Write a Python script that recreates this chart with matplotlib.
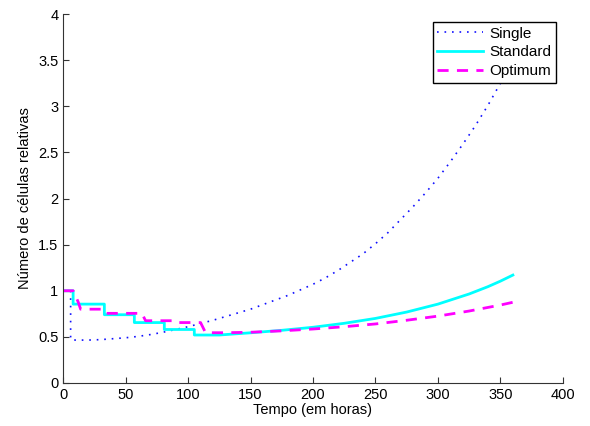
import matplotlib
matplotlib.use("Agg")
import matplotlib.pyplot as plt
from matplotlib.ticker import FormatStrFormatter

# Single dose: drop at t=6, then regrowth
single_t = [0, 6, 6, 10, 20, 30, 40, 50, 60, 70, 80, 90, 100, 110, 120, 130, 140,
            150, 160, 170, 180, 190, 200, 210, 220, 230, 240, 250, 260, 270, 280,
            290, 300, 310, 320, 330, 340, 350, 360]
single_y = [1.0, 1.0, 0.47, 0.465, 0.465, 0.47, 0.48, 0.49, 0.505, 0.525, 0.55, 0.58,
            0.61, 0.645, 0.68, 0.72, 0.76, 0.80, 0.85, 0.90, 0.95, 1.01, 1.07, 1.14,
            1.22, 1.31, 1.40, 1.51, 1.63, 1.77, 1.91, 2.06, 2.22, 2.40, 2.59, 2.79,
            3.01, 3.25, 3.50]

# Standard schedule: doses every ~24 h
standard_t = [0, 8, 8, 33, 33, 57, 57, 81, 81, 105, 105, 125, 150, 175, 200, 225,
              250, 275, 300, 325, 340, 350, 360]
standard_y = [1.0, 1.0, 0.855, 0.855, 0.74, 0.74, 0.655, 0.655, 0.58, 0.58, 0.52,
              0.52, 0.544, 0.571, 0.604, 0.647, 0.70, 0.769, 0.855, 0.965, 1.044,
              1.104, 1.17]

# Optimum schedule
optimum_t = [0, 8, 11, 12, 14, 32, 34, 63, 66, 87, 89, 110, 114, 130, 150, 175, 200,
             225, 250, 275, 300, 325, 350, 360]
optimum_y = [1.0, 1.0, 0.91, 0.88, 0.80, 0.80, 0.755, 0.755, 0.675, 0.675, 0.655,
             0.655, 0.545, 0.545, 0.55, 0.565, 0.585, 0.61, 0.64, 0.68, 0.725, 0.78,
             0.845, 0.875]

x_ticks = [0, 50, 100, 150, 200, 250, 300, 350, 400]
y_ticks = [0, 0.5, 1, 1.5, 2, 2.5, 3, 3.5, 4]

plt.rcParams['font.family'] = ['Liberation Sans', 'DejaVu Sans']

fig = plt.figure(figsize=(5.9, 4.26), dpi=100)
ax = fig.add_axes([0.107, 0.101, 0.847, 0.866])

ax.plot(single_t, single_y, linestyle=':', color='#1010ff', linewidth=1.2,
        dashes=(1.0, 3.5), label='Single')
ax.plot(standard_t, standard_y, linestyle='-', color='#00ffff', linewidth=2.0, label='Standard')
ax.plot(optimum_t, optimum_y, linestyle='--', color='#ff00ff', linewidth=2.0,
        dashes=(4, 3), label='Optimum')

ax.set_xlim(0, 400)
ax.set_ylim(0, 4)
ax.set_xticks(x_ticks)
ax.set_yticks(y_ticks)
ax.yaxis.set_major_formatter(FormatStrFormatter('%g'))
ax.tick_params(direction='in', length=4, labelsize=10.5, top=False, right=False,
               color='#333333')
ax.spines['top'].set_visible(False)
ax.spines['right'].set_visible(False)
ax.spines['left'].set_color('#333333')
ax.spines['bottom'].set_color('#333333')

ax.set_xlabel('Tempo (em horas)', fontsize=10.5, labelpad=1)
ax.set_ylabel('Número de células relativas', fontsize=10.5)

leg = ax.legend(loc='upper right', bbox_to_anchor=(0.986, 0.978), borderaxespad=0,
                fontsize=11, fancybox=False, framealpha=1, edgecolor='black',
                handlelength=3.0, borderpad=0.3, labelspacing=0.3, handletextpad=0.4)
leg.get_frame().set_linewidth(1.0)

fig.savefig('out.png', dpi=100)
